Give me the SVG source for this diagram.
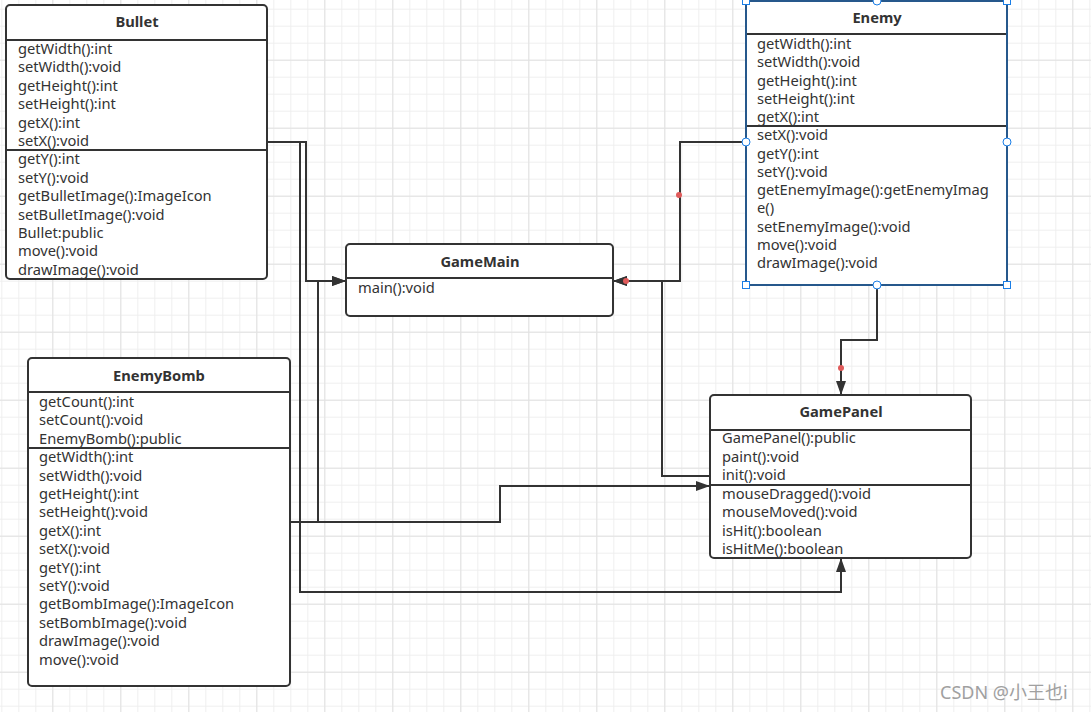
<svg xmlns="http://www.w3.org/2000/svg" width="1091" height="712" viewBox="0 0 1091 712">
<defs>
<pattern id="gMinor" patternUnits="userSpaceOnUse" x="1.3" y="8.7" width="17" height="17">
<path d="M0 0.5H17M0.5 0V17" stroke="#efefef" stroke-width="1" fill="none"/>
</pattern>
<pattern id="gMajor" patternUnits="userSpaceOnUse" x="52.3" y="59.7" width="68" height="68">
<path d="M0 0.5H68M0.5 0V68" stroke="#e2e2e2" stroke-width="1" fill="none"/>
</pattern>
<marker id="arr" viewBox="0 0 14 10" refX="14" refY="5" markerWidth="14" markerHeight="10" markerUnits="userSpaceOnUse" orient="auto">
<path d="M0,0 L14,5 L0,10 z" fill="#333"/>
</marker>
</defs>
<style>
.box{fill:#fff;stroke:#333;stroke-width:2}
.div{stroke:#333;stroke-width:2}
.t{font-family:"Noto Sans","Liberation Sans",sans-serif;font-size:14.7px;fill:#333}
.h{font-family:"Noto Sans","Liberation Sans",sans-serif;font-size:14.7px;font-weight:bold;fill:#333;text-anchor:middle}
.c{fill:none;stroke:#333;stroke-width:2}
.dot{fill:#e05a5a}
.sel{fill:none;stroke:#1a7ee6;stroke-width:1}
.hs{fill:#fff;stroke:#1a7ee6;stroke-width:1}
</style>
<rect width="1091" height="712" fill="#fff"/>
<rect width="1091" height="712" fill="url(#gMinor)"/>
<rect width="1091" height="712" fill="url(#gMajor)"/>

<g id="connectors">
<path class="c" d="M267,142 H306 V281 H346" marker-end="url(#arr)"/>
<path class="c" d="M267,142 H300 V592 H841 V558" marker-end="url(#arr)"/>
<path class="c" d="M290,522 H318 V281 H346" marker-end="url(#arr)"/>
<path class="c" d="M290,522 H500 V486 H710" marker-end="url(#arr)"/>
<path class="c" d="M746,142 H680 V281 H613" marker-end="url(#arr)"/>
<path class="c" d="M710,476 H662 V281 H613" marker-end="url(#arr)"/>
<path class="c" d="M877,285 V340 H841 V395" marker-end="url(#arr)"/>
<circle class="dot" cx="679" cy="195" r="3"/>
<circle class="dot" cx="626" cy="281" r="3"/>
<circle class="dot" cx="841" cy="368" r="3"/>
</g>

<g id="Bullet">
<rect class="box" x="6" y="5" width="261" height="274" rx="4"/>
<line class="div" x1="6" y1="40" x2="267" y2="40"/>
<line class="div" x1="6" y1="150" x2="267" y2="150"/>
<text class="h" x="137" y="27">Bullet</text>
<text class="t" y="54">
<tspan x="18">getWidth():int</tspan>
<tspan x="18" dy="18.4">setWidth():void</tspan>
<tspan x="18" dy="18.4">getHeight():int</tspan>
<tspan x="18" dy="18.4">setHeight():int</tspan>
<tspan x="18" dy="18.4">getX():int</tspan>
<tspan x="18" dy="18.4">setX():void</tspan>
<tspan x="18" dy="18.4">getY():int</tspan>
<tspan x="18" dy="18.4">setY():void</tspan>
<tspan x="18" dy="18.4">getBulletImage():ImageIcon</tspan>
<tspan x="18" dy="18.4">setBulletImage():void</tspan>
<tspan x="18" dy="18.4">Bullet:public</tspan>
<tspan x="18" dy="18.4">move():void</tspan>
<tspan x="18" dy="18.4">drawImage():void</tspan>
</text>
</g>

<g id="EnemyBomb">
<rect class="box" x="28" y="358" width="262" height="328" rx="4"/>
<line class="div" x1="28" y1="392" x2="290" y2="392"/>
<line class="div" x1="28" y1="448" x2="290" y2="448"/>
<text class="h" x="159" y="381">EnemyBomb</text>
<text class="t" y="407">
<tspan x="39">getCount():int</tspan>
<tspan x="39" dy="18.4">setCount():void</tspan>
<tspan x="39" dy="18.4">EnemyBomb():public</tspan>
<tspan x="39" dy="18.4">getWidth():int</tspan>
<tspan x="39" dy="18.4">setWidth():void</tspan>
<tspan x="39" dy="18.4">getHeight():int</tspan>
<tspan x="39" dy="18.4">setHeight():void</tspan>
<tspan x="39" dy="18.4">getX():int</tspan>
<tspan x="39" dy="18.4">setX():void</tspan>
<tspan x="39" dy="18.4">getY():int</tspan>
<tspan x="39" dy="18.4">setY():void</tspan>
<tspan x="39" dy="18.4">getBombImage():ImageIcon</tspan>
<tspan x="39" dy="18.4">setBombImage():void</tspan>
<tspan x="39" dy="18.4">drawImage():void</tspan>
<tspan x="39" dy="18.4">move():void</tspan>
</text>
</g>

<g id="GameMain">
<rect class="box" x="346" y="244" width="267" height="72" rx="4"/>
<line class="div" x1="346" y1="278" x2="613" y2="278"/>
<text class="h" x="480" y="267">GameMain</text>
<text class="t" x="358" y="293">main():void</text>
</g>

<g id="Enemy">
<rect class="box" x="746" y="1" width="261" height="284" rx="1"/>
<line class="div" x1="746" y1="34" x2="1007" y2="34"/>
<line class="div" x1="746" y1="126" x2="1007" y2="126"/>
<text class="h" x="877" y="23">Enemy</text>
<text class="t" y="49">
<tspan x="757">getWidth():int</tspan>
<tspan x="757" dy="18.25">setWidth():void</tspan>
<tspan x="757" dy="18.25">getHeight():int</tspan>
<tspan x="757" dy="18.25">setHeight():int</tspan>
<tspan x="757" dy="18.25">getX():int</tspan>
<tspan x="757" dy="18.25">setX():void</tspan>
<tspan x="757" dy="18.25">getY():int</tspan>
<tspan x="757" dy="18.25">setY():void</tspan>
<tspan x="757" dy="18.25">getEnemyImage():getEnemyImag</tspan>
<tspan x="757" dy="18.25">e()</tspan>
<tspan x="757" dy="18.25">setEnemyImage():void</tspan>
<tspan x="757" dy="18.25">move():void</tspan>
<tspan x="757" dy="18.25">drawImage():void</tspan>
</text>
<rect class="sel" x="746" y="1" width="261" height="284"/>
<rect class="hs" x="742.5" y="-2.5" width="7" height="7"/>
<rect class="hs" x="1003.5" y="-2.5" width="7" height="7"/>
<rect class="hs" x="742.5" y="281.5" width="7" height="7"/>
<rect class="hs" x="1003.5" y="281.5" width="7" height="7"/>
<circle class="hs" cx="877" cy="1" r="4"/>
<circle class="hs" cx="746" cy="142" r="4"/>
<circle class="hs" cx="1007" cy="142" r="4"/>
<circle class="hs" cx="877" cy="285" r="4"/>
</g>

<g id="GamePanel">
<rect class="box" x="710" y="395" width="261" height="163" rx="4"/>
<line class="div" x1="710" y1="430" x2="971" y2="430"/>
<line class="div" x1="710" y1="485" x2="971" y2="485"/>
<text class="h" x="841" y="417">GamePanel</text>
<text class="t" y="443">
<tspan x="722">GamePanel():public</tspan>
<tspan x="722" dy="18.5">paint():void</tspan>
<tspan x="722" dy="18.5">init():void</tspan>
<tspan x="722" dy="18.5">mouseDragged():void</tspan>
<tspan x="722" dy="18.5">mouseMoved():void</tspan>
<tspan x="722" dy="18.5">isHit():boolean</tspan>
<tspan x="722" dy="18.5">isHitMe():boolean</tspan>
</text>
</g>

<text x="940" y="699" font-family="Noto Sans,'Noto Sans CJK SC',sans-serif" font-size="18" fill="#a0a0a0">CSDN @小王也i</text>
</svg>
